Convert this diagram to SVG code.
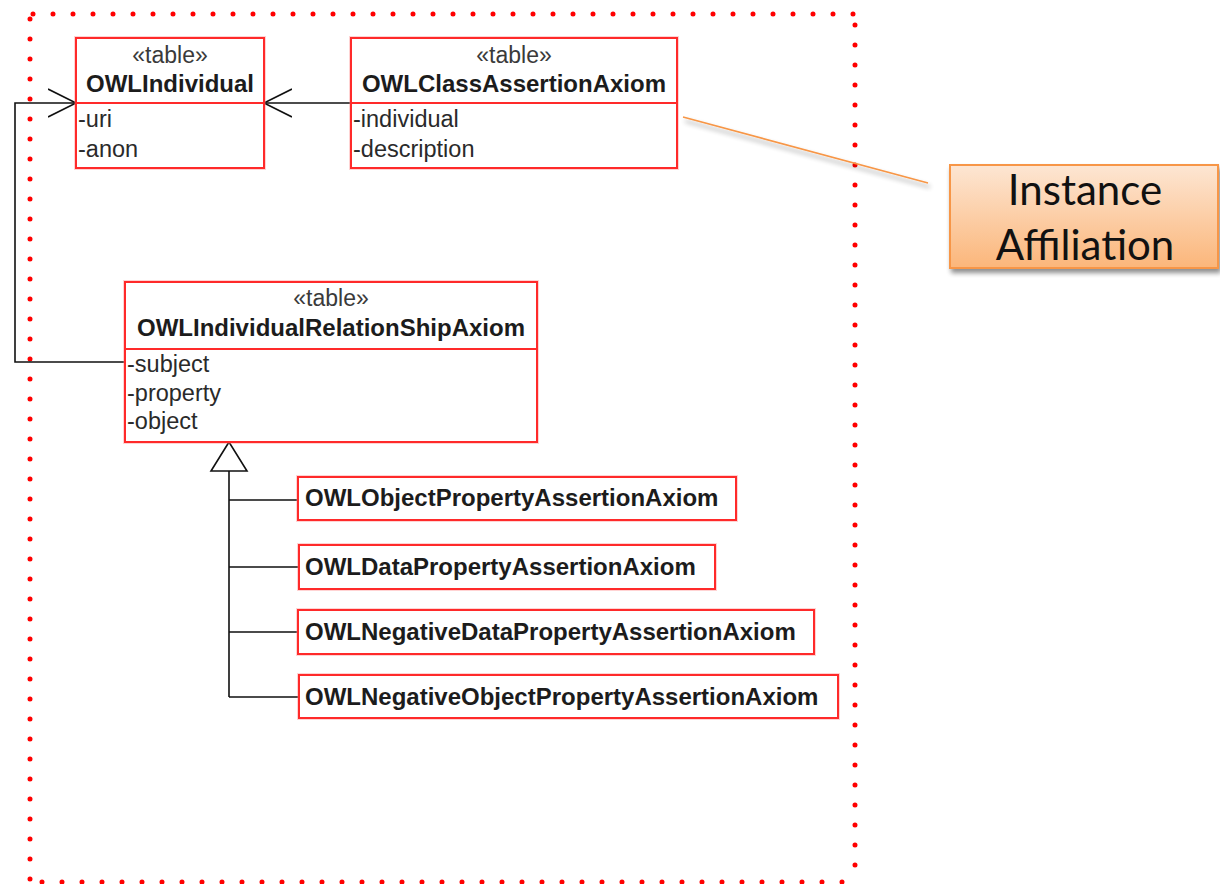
<svg xmlns="http://www.w3.org/2000/svg" width="1220" height="884" viewBox="0 0 1220 884">
  <style>
    .box { fill: #ffffff; stroke: #ff2a2a; stroke-width: 2; }
    .halo { fill: none; stroke: #ff8080; stroke-width: 4; opacity: 0.35; }
    .div { stroke: #ff2a2a; stroke-width: 2; }
    .name { font-family: "Liberation Sans", Arial, sans-serif; font-size: 24px; font-weight: bold; fill: #1c1c1c; }
    .ster { font-family: "Liberation Sans", Arial, sans-serif; font-size: 23px; fill: #3a3a3a; text-anchor: middle; }
    .attr { font-family: "Liberation Sans", Arial, sans-serif; font-size: 23.5px; fill: #2a2a2a; }
    .mid { text-anchor: middle; }
    .dots { fill: none; stroke: #ff0000; stroke-width: 5; stroke-linecap: round; stroke-dasharray: 0 20; }
    .conn { fill: none; stroke: #111111; stroke-width: 1.6; }
    .note { font-family: Lato, "Open Sans", "Liberation Sans", sans-serif; font-size: 42px; fill: #111111; text-anchor: middle; }
  </style>
  <defs>
    <marker id="openArrow" viewBox="0 0 30 30" refX="28" refY="15" markerWidth="30" markerHeight="30" orient="auto" markerUnits="userSpaceOnUse">
      <path d="M0,1 L28,15 L0,29" fill="none" stroke="#111111" stroke-width="1.6"/>
    </marker>
    <linearGradient id="noteFill" x1="0" y1="0" x2="0" y2="1">
      <stop offset="0" stop-color="#fde6d3"/>
      <stop offset="1" stop-color="#fbb67a"/>
    </linearGradient>
    <filter id="soft" x="-10%" y="-10%" width="130%" height="140%">
      <feGaussianBlur in="SourceAlpha" stdDeviation="2.5"/>
      <feOffset dx="2" dy="4" result="b"/>
      <feComponentTransfer><feFuncA type="linear" slope="0.45"/></feComponentTransfer>
      <feMerge><feMergeNode/><feMergeNode in="SourceGraphic"/></feMerge>
    </filter>
  </defs>

  <!-- dotted package frame -->
  <g id="frame">
    <path class="dots" d="M33,14 H856"/>
    <path class="dots" d="M30,19 V883"/>
    <path class="dots" d="M855,25 V883"/>
    <path class="dots" d="M42,882 H856"/>
  </g>

  <!-- connectors -->
  <g id="connectors">
    <path class="conn" d="M125,362 H15 V103 H76" marker-end="url(#openArrow)"/>
    <path class="conn" d="M351,103 H264" marker-end="url(#openArrow)"/>
    <path class="conn" d="M229,471 V697 M229,500 H298 M229,567 H299 M229,632 H298 M229,697 H299"/>
    <polygon points="229,442 211,471 247,471" fill="#ffffff" stroke="#111111" stroke-width="1.6"/>
    <path d="M683,117 L928,183" fill="none" stroke="#f79646" stroke-width="1.6" filter="url(#soft)"/>
  </g>

  <g id="OWLIndividual">
    <rect class="halo" x="76" y="38" width="188" height="130"/>
    <rect class="box" x="76" y="38" width="188" height="130"/>
    <line class="div" x1="76" y1="103" x2="264" y2="103"/>
    <text class="ster" x="170" y="63">«table»</text>
    <text class="name mid" x="170" y="92">OWLIndividual</text>
    <text class="attr" x="78" y="127">-uri</text>
    <text class="attr" x="78" y="157">-anon</text>
  </g>

  <g id="OWLClassAssertionAxiom">
    <rect class="halo" x="351" y="38" width="326" height="130"/>
    <rect class="box" x="351" y="38" width="326" height="130"/>
    <line class="div" x1="351" y1="103" x2="677" y2="103"/>
    <text class="ster" x="514" y="63">«table»</text>
    <text class="name mid" x="514" y="92">OWLClassAssertionAxiom</text>
    <text class="attr" x="353" y="127">-individual</text>
    <text class="attr" x="353" y="157">-description</text>
  </g>

  <g id="OWLIndividualRelationShipAxiom">
    <rect class="halo" x="125" y="282" width="412" height="160"/>
    <rect class="box" x="125" y="282" width="412" height="160"/>
    <line class="div" x1="125" y1="349" x2="537" y2="349"/>
    <text class="ster" x="331" y="306">«table»</text>
    <text class="name mid" x="331" y="336">OWLIndividualRelationShipAxiom</text>
    <text class="attr" x="127" y="372">-subject</text>
    <text class="attr" x="127" y="401">-property</text>
    <text class="attr" x="127" y="429">-object</text>
  </g>

  <g id="OWLObjectPropertyAssertionAxiom">
    <rect class="halo" x="298" y="477" width="438" height="43"/>
    <rect class="box" x="298" y="477" width="438" height="43"/>
    <text class="name" x="305" y="506">OWLObjectPropertyAssertionAxiom</text>
  </g>

  <g id="OWLDataPropertyAssertionAxiom">
    <rect class="halo" x="299" y="545" width="416" height="44"/>
    <rect class="box" x="299" y="545" width="416" height="44"/>
    <text class="name" x="305" y="575">OWLDataPropertyAssertionAxiom</text>
  </g>

  <g id="OWLNegativeDataPropertyAssertionAxiom">
    <rect class="halo" x="298" y="610" width="516" height="44"/>
    <rect class="box" x="298" y="610" width="516" height="44"/>
    <text class="name" x="305" y="640">OWLNegativeDataPropertyAssertionAxiom</text>
  </g>

  <g id="OWLNegativeObjectPropertyAssertionAxiom">
    <rect class="halo" x="299" y="675" width="539" height="43"/>
    <rect class="box" x="299" y="675" width="539" height="43"/>
    <text class="name" x="305" y="705">OWLNegativeObjectPropertyAssertionAxiom</text>
  </g>

  <g id="InstanceAffiliation">
    <rect x="950" y="165" width="268" height="103" fill="url(#noteFill)" stroke="#f79646" stroke-width="2" filter="url(#soft)"/>
    <text class="note" x="1085" y="205">Instance</text>
    <text class="note" x="1085" y="260">Affiliation</text>
  </g>
</svg>
